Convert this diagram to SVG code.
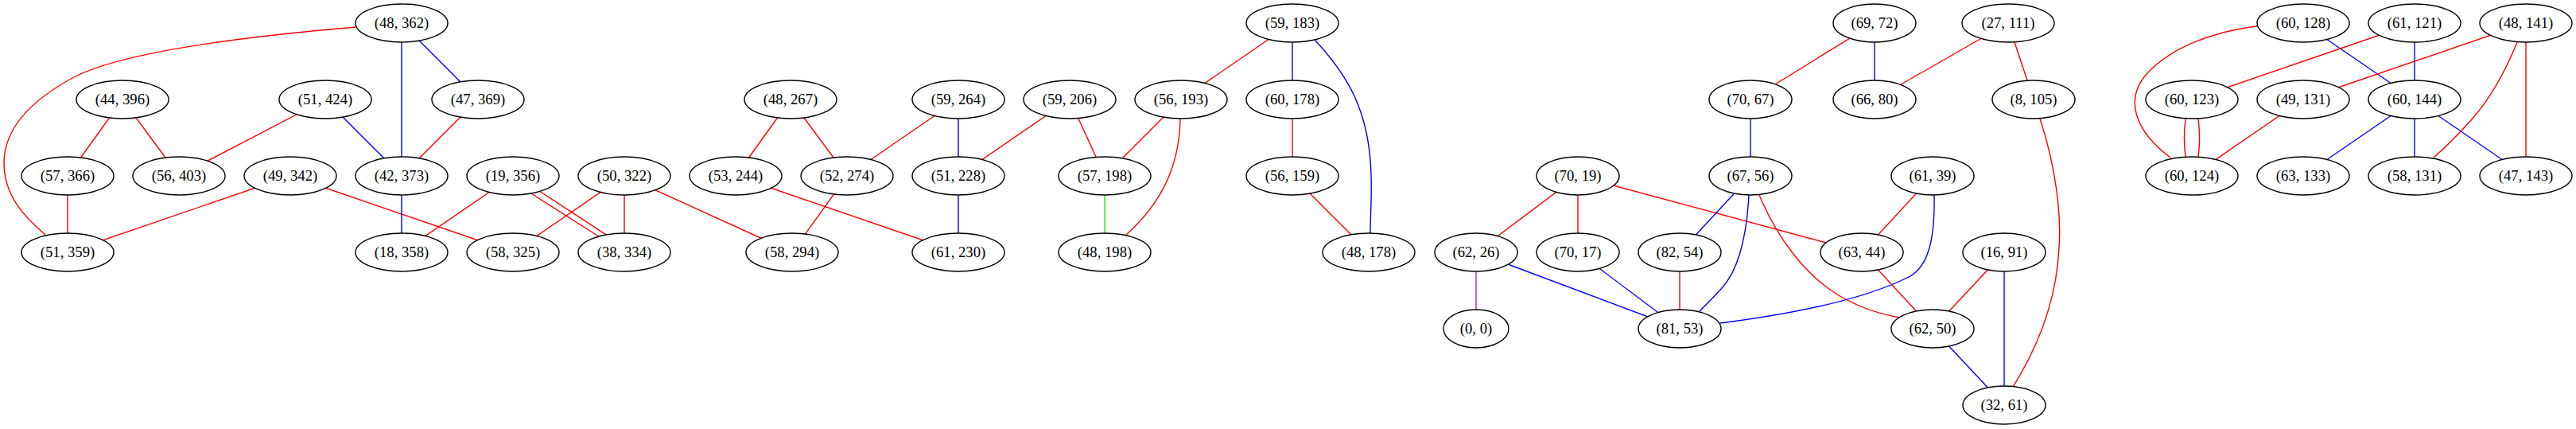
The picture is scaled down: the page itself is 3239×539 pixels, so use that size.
<svg xmlns="http://www.w3.org/2000/svg" width="3239" height="539" viewBox="0 0 3239 539">
<style>
.e{fill:none;stroke-width:1.4}
.r{stroke:#ff0000}.b{stroke:#0000ff}.g{stroke:#00ff00}.p{stroke:#a020f0}
.n ellipse{fill:#ffffff;stroke:#000000;stroke-width:1.4}
.n text{font-family:"Liberation Serif","Times New Roman",serif;font-size:18.67px;text-anchor:middle;fill:#000000}
</style>
<rect width="3239" height="539" fill="#ffffff"/>
<g id="edges">
<path class="e r" d="M448,34 C330,44 160,62 93,97 C50,120 5,155 5,205 C5,245 30,272 57,295"/>
<path class="e b" d="M505,29 L505,221"/>
<path class="e b" d="M505,29 L601,125"/>
<path class="e r" d="M154,125 L85,221"/>
<path class="e r" d="M154,125 L225,221"/>
<path class="e r" d="M409,125 L225,221"/>
<path class="e b" d="M409,125 L505,221"/>
<path class="e r" d="M601,125 L505,221"/>
<path class="e r" d="M85,221 L85,317"/>
<path class="e r" d="M365,221 L85,317"/>
<path class="e r" d="M365,221 L645,317"/>
<path class="e b" d="M505,221 L505,317"/>
<path class="e r" d="M645,221 L505,317"/>
<path class="e r" d="M660,238 L759,301"/>
<path class="e r" d="M672,236 L770,300"/>
<path class="e r" d="M785,221 L645,317"/>
<path class="e r" d="M785,221 L785,317"/>
<path class="e r" d="M785,221 L996,317"/>
<path class="e r" d="M994,125 L925,221"/>
<path class="e r" d="M994,125 L1065,221"/>
<path class="e r" d="M925,221 L1205,317"/>
<path class="e r" d="M1065,221 L996,317"/>
<path class="e r" d="M1205,125 L1065,221"/>
<path class="e b" d="M1205,125 L1205,221"/>
<path class="e r" d="M1345,125 L1205,221"/>
<path class="e r" d="M1345,125 L1389,221"/>
<path class="e r" d="M1485,125 L1389,221"/>
<path class="e r" d="M1484,149 C1483,215 1455,260 1416,295"/>
<path class="e b" d="M1205,221 L1205,317"/>
<path class="e g" d="M1389,221 L1389,317"/>
<path class="e r" d="M1625,29 L1485,125"/>
<path class="e b" d="M1625,29 L1625,125"/>
<path class="e b" d="M1653,50 C1695,95 1722,140 1724,220 C1725,250 1723,270 1723,293"/>
<path class="e r" d="M1625,125 L1625,221"/>
<path class="e r" d="M1625,221 L1721,317"/>
<path class="e r" d="M1984,221 L1856,317"/>
<path class="e r" d="M1984,221 L1984,317"/>
<path class="e r" d="M1984,221 L2341,317"/>
<path class="e p" d="M1856,317 L1856,413"/>
<path class="e b" d="M1856,317 L2112,413"/>
<path class="e b" d="M1984,317 L2112,413"/>
<path class="e r" d="M2112,317 L2112,413"/>
<path class="e b" d="M2201,221 L2112,317"/>
<path class="e b" d="M2199,245 C2196,300 2185,340 2165,362 C2155,373 2146,382 2137,391"/>
<path class="e r" d="M2212,245 C2235,300 2270,345 2310,370 C2340,388 2365,395 2389,399"/>
<path class="e r" d="M2430,221 L2341,317"/>
<path class="e b" d="M2432,245 C2433,300 2425,335 2400,348 C2340,378 2250,395 2163,406"/>
<path class="e r" d="M2341,317 L2430,413"/>
<path class="e r" d="M2520,317 L2430,413"/>
<path class="e b" d="M2520,317 L2520,509"/>
<path class="e b" d="M2430,413 L2520,509"/>
<path class="e r" d="M2357,29 L2201,125"/>
<path class="e b" d="M2357,29 L2357,125"/>
<path class="e r" d="M2525,29 L2357,125"/>
<path class="e r" d="M2525,29 L2557,125"/>
<path class="e b" d="M2201,125 L2201,221"/>
<path class="e r" d="M2565,149 C2585,210 2592,270 2589,310 C2586,380 2560,440 2531,486"/>
<path class="e r" d="M2838,33 C2780,40 2730,60 2700,92 C2670,125 2685,165 2729,198"/>
<path class="e b" d="M2896,29 L3036,125"/>
<path class="e r" d="M3036,29 L2756,125"/>
<path class="e b" d="M3036,29 L3036,125"/>
<path class="e r" d="M3176,29 L2896,125"/>
<path class="e r" d="M3165,53 C3150,90 3130,125 3108,150 C3090,170 3075,185 3060,198"/>
<path class="e r" d="M3176,29 L3176,221"/>
<path class="e r" d="M2748,149 C2746,165 2746,182 2748,198"/>
<path class="e r" d="M2764,149 C2766,165 2766,182 2764,198"/>
<path class="e r" d="M2896,125 L2756,221"/>
<path class="e b" d="M3036,125 L2896,221"/>
<path class="e b" d="M3036,125 L3036,221"/>
<path class="e b" d="M3036,125 L3176,221"/>
</g>
<g id="n_48_362" class="n"><ellipse cx="505" cy="29" rx="58" ry="24"/><text x="505" y="35">(48, 362)</text></g>
<g id="n_59_183" class="n"><ellipse cx="1625" cy="29" rx="58" ry="24"/><text x="1625" y="35">(59, 183)</text></g>
<g id="n_69_72" class="n"><ellipse cx="2357" cy="29" rx="52" ry="24"/><text x="2357" y="35">(69, 72)</text></g>
<g id="n_27_111" class="n"><ellipse cx="2525" cy="29" rx="58" ry="24"/><text x="2525" y="35">(27, 111)</text></g>
<g id="n_60_128" class="n"><ellipse cx="2896" cy="29" rx="58" ry="24"/><text x="2896" y="35">(60, 128)</text></g>
<g id="n_61_121" class="n"><ellipse cx="3036" cy="29" rx="58" ry="24"/><text x="3036" y="35">(61, 121)</text></g>
<g id="n_48_141" class="n"><ellipse cx="3176" cy="29" rx="58" ry="24"/><text x="3176" y="35">(48, 141)</text></g>
<g id="n_44_396" class="n"><ellipse cx="154" cy="125" rx="58" ry="24"/><text x="154" y="131">(44, 396)</text></g>
<g id="n_51_424" class="n"><ellipse cx="409" cy="125" rx="58" ry="24"/><text x="409" y="131">(51, 424)</text></g>
<g id="n_47_369" class="n"><ellipse cx="601" cy="125" rx="58" ry="24"/><text x="601" y="131">(47, 369)</text></g>
<g id="n_48_267" class="n"><ellipse cx="994" cy="125" rx="58" ry="24"/><text x="994" y="131">(48, 267)</text></g>
<g id="n_59_264" class="n"><ellipse cx="1205" cy="125" rx="58" ry="24"/><text x="1205" y="131">(59, 264)</text></g>
<g id="n_59_206" class="n"><ellipse cx="1345" cy="125" rx="58" ry="24"/><text x="1345" y="131">(59, 206)</text></g>
<g id="n_56_193" class="n"><ellipse cx="1485" cy="125" rx="58" ry="24"/><text x="1485" y="131">(56, 193)</text></g>
<g id="n_60_178" class="n"><ellipse cx="1625" cy="125" rx="58" ry="24"/><text x="1625" y="131">(60, 178)</text></g>
<g id="n_70_67" class="n"><ellipse cx="2201" cy="125" rx="52" ry="24"/><text x="2201" y="131">(70, 67)</text></g>
<g id="n_66_80" class="n"><ellipse cx="2357" cy="125" rx="52" ry="24"/><text x="2357" y="131">(66, 80)</text></g>
<g id="n_8_105" class="n"><ellipse cx="2557" cy="125" rx="52" ry="24"/><text x="2557" y="131">(8, 105)</text></g>
<g id="n_60_123" class="n"><ellipse cx="2756" cy="125" rx="58" ry="24"/><text x="2756" y="131">(60, 123)</text></g>
<g id="n_49_131" class="n"><ellipse cx="2896" cy="125" rx="58" ry="24"/><text x="2896" y="131">(49, 131)</text></g>
<g id="n_60_144" class="n"><ellipse cx="3036" cy="125" rx="58" ry="24"/><text x="3036" y="131">(60, 144)</text></g>
<g id="n_57_366" class="n"><ellipse cx="85" cy="221" rx="58" ry="24"/><text x="85" y="227">(57, 366)</text></g>
<g id="n_56_403" class="n"><ellipse cx="225" cy="221" rx="58" ry="24"/><text x="225" y="227">(56, 403)</text></g>
<g id="n_49_342" class="n"><ellipse cx="365" cy="221" rx="58" ry="24"/><text x="365" y="227">(49, 342)</text></g>
<g id="n_42_373" class="n"><ellipse cx="505" cy="221" rx="58" ry="24"/><text x="505" y="227">(42, 373)</text></g>
<g id="n_19_356" class="n"><ellipse cx="645" cy="221" rx="58" ry="24"/><text x="645" y="227">(19, 356)</text></g>
<g id="n_50_322" class="n"><ellipse cx="785" cy="221" rx="58" ry="24"/><text x="785" y="227">(50, 322)</text></g>
<g id="n_53_244" class="n"><ellipse cx="925" cy="221" rx="58" ry="24"/><text x="925" y="227">(53, 244)</text></g>
<g id="n_52_274" class="n"><ellipse cx="1065" cy="221" rx="58" ry="24"/><text x="1065" y="227">(52, 274)</text></g>
<g id="n_51_228" class="n"><ellipse cx="1205" cy="221" rx="58" ry="24"/><text x="1205" y="227">(51, 228)</text></g>
<g id="n_57_198" class="n"><ellipse cx="1389" cy="221" rx="58" ry="24"/><text x="1389" y="227">(57, 198)</text></g>
<g id="n_56_159" class="n"><ellipse cx="1625" cy="221" rx="58" ry="24"/><text x="1625" y="227">(56, 159)</text></g>
<g id="n_70_19" class="n"><ellipse cx="1984" cy="221" rx="52" ry="24"/><text x="1984" y="227">(70, 19)</text></g>
<g id="n_67_56" class="n"><ellipse cx="2201" cy="221" rx="52" ry="24"/><text x="2201" y="227">(67, 56)</text></g>
<g id="n_61_39" class="n"><ellipse cx="2430" cy="221" rx="52" ry="24"/><text x="2430" y="227">(61, 39)</text></g>
<g id="n_60_124" class="n"><ellipse cx="2756" cy="221" rx="58" ry="24"/><text x="2756" y="227">(60, 124)</text></g>
<g id="n_63_133" class="n"><ellipse cx="2896" cy="221" rx="58" ry="24"/><text x="2896" y="227">(63, 133)</text></g>
<g id="n_58_131" class="n"><ellipse cx="3036" cy="221" rx="58" ry="24"/><text x="3036" y="227">(58, 131)</text></g>
<g id="n_47_143" class="n"><ellipse cx="3176" cy="221" rx="58" ry="24"/><text x="3176" y="227">(47, 143)</text></g>
<g id="n_51_359" class="n"><ellipse cx="85" cy="317" rx="58" ry="24"/><text x="85" y="323">(51, 359)</text></g>
<g id="n_18_358" class="n"><ellipse cx="505" cy="317" rx="58" ry="24"/><text x="505" y="323">(18, 358)</text></g>
<g id="n_58_325" class="n"><ellipse cx="645" cy="317" rx="58" ry="24"/><text x="645" y="323">(58, 325)</text></g>
<g id="n_38_334" class="n"><ellipse cx="785" cy="317" rx="58" ry="24"/><text x="785" y="323">(38, 334)</text></g>
<g id="n_58_294" class="n"><ellipse cx="996" cy="317" rx="58" ry="24"/><text x="996" y="323">(58, 294)</text></g>
<g id="n_61_230" class="n"><ellipse cx="1205" cy="317" rx="58" ry="24"/><text x="1205" y="323">(61, 230)</text></g>
<g id="n_48_198" class="n"><ellipse cx="1389" cy="317" rx="58" ry="24"/><text x="1389" y="323">(48, 198)</text></g>
<g id="n_48_178" class="n"><ellipse cx="1721" cy="317" rx="58" ry="24"/><text x="1721" y="323">(48, 178)</text></g>
<g id="n_62_26" class="n"><ellipse cx="1856" cy="317" rx="52" ry="24"/><text x="1856" y="323">(62, 26)</text></g>
<g id="n_70_17" class="n"><ellipse cx="1984" cy="317" rx="52" ry="24"/><text x="1984" y="323">(70, 17)</text></g>
<g id="n_82_54" class="n"><ellipse cx="2112" cy="317" rx="52" ry="24"/><text x="2112" y="323">(82, 54)</text></g>
<g id="n_63_44" class="n"><ellipse cx="2341" cy="317" rx="52" ry="24"/><text x="2341" y="323">(63, 44)</text></g>
<g id="n_16_91" class="n"><ellipse cx="2520" cy="317" rx="52" ry="24"/><text x="2520" y="323">(16, 91)</text></g>
<g id="n_0_0" class="n"><ellipse cx="1856" cy="413" rx="41" ry="24"/><text x="1856" y="419">(0, 0)</text></g>
<g id="n_81_53" class="n"><ellipse cx="2112" cy="413" rx="52" ry="24"/><text x="2112" y="419">(81, 53)</text></g>
<g id="n_62_50" class="n"><ellipse cx="2430" cy="413" rx="52" ry="24"/><text x="2430" y="419">(62, 50)</text></g>
<g id="n_32_61" class="n"><ellipse cx="2520" cy="509" rx="52" ry="24"/><text x="2520" y="515">(32, 61)</text></g>
</svg>
